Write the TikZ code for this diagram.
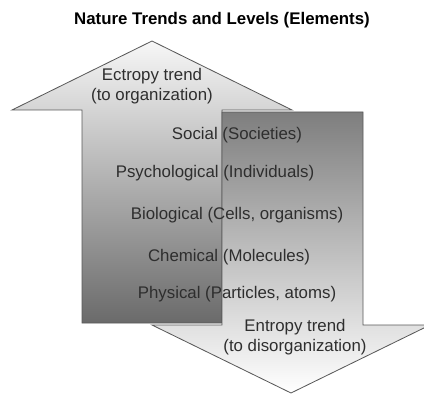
\documentclass[tikz,border=0pt]{standalone}
\usepackage{fontspec}
\setmainfont{Liberation Sans}
\definecolor{lighttop}{HTML}{F7F7F7}
\definecolor{darkbottom}{HTML}{6A6A6A}
\definecolor{darktop}{HTML}{7E7E7E}
\definecolor{textgray}{HTML}{2E2E2E}
\begin{document}
\begin{tikzpicture}[
        x=0.6pt, y=0.6pt,
        arrowshape/.style={draw=black!65, line width=0.5pt},
        level/.style={text=textgray, inner sep=0pt, font=\fontsize{10.1}{12}\selectfont},
        trend/.style={level, align=center, font=\fontsize{10.1}{12}\selectfont}
    ]
        \useasboundingbox (0,0) rectangle (424,394);

        % Flèche montante (ectropie)
        \draw[arrowshape, top color=lighttop, bottom color=darkbottom]
            (152,353) -- (292,284) -- (222,284) -- (222,71) -- (82,71)
            -- (82,284) -- (12,284) -- cycle;

        % Flèche descendante (entropie)
        \draw[arrowshape, top color=darktop, bottom color=white]
            (222,282) -- (363,282) -- (363,69) -- (430,69) -- (291,1)
            -- (152,69) -- (222,69) -- cycle;

        % Titre
        \node[font=\fontsize{10.1}{12}\selectfont\bfseries] (title) at (222,374)
            {Nature Trends and Levels (Elements)};

        % Tendances
        \node[trend] (ectropy) at (152,308) {Ectropy trend\\(to organization)};
        \node[trend] (entropy) at (295,57) {Entropy trend\\(to disorganization)};

        % Niveaux
        \node[level] (social) at (237,259) {Social (Societies)};
        \node[level] (psycho) at (215,221) {Psychological (Individuals)};
        \node[level] (bio) at (237,179) {Biological (Cells, organisms)};
        \node[level] (chem) at (229,137) {Chemical (Molecules)};
        \node[level] (phys) at (237,100) {Physical (Particles, atoms)};
    \end{tikzpicture}
\end{document}
